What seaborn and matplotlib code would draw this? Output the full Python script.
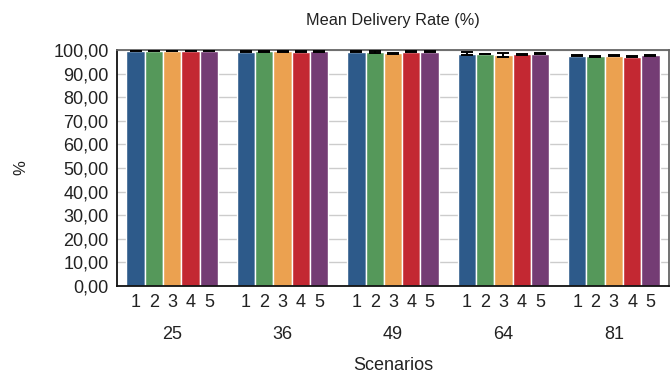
import matplotlib
matplotlib.use("Agg")
import matplotlib.pyplot as plt
import seaborn as sns
import pandas as pd
from matplotlib.ticker import FuncFormatter

# Mean delivery rate per scenario size and configuration
scenarios = ["25", "36", "49", "64", "81"]
configs = ["1", "2", "3", "4", "5"]
rate_25 = [99.7, 99.7, 99.7, 99.7, 99.7]
rate_36 = [99.3, 99.4, 99.4, 99.3, 99.4]
rate_49 = [99.3, 99.2, 98.6, 99.2, 99.3]
rate_64 = [98.5, 98.3, 97.9, 98.1, 98.5]
rate_81 = [97.6, 97.3, 97.6, 97.2, 97.7]
err_25 = [0.2, 0.2, 0.2, 0.2, 0.2]
err_36 = [0.2, 0.2, 0.2, 0.2, 0.2]
err_49 = [0.2, 0.3, 0.2, 0.2, 0.2]
err_64 = [0.7, 0.2, 1.0, 0.4, 0.3]
err_81 = [0.3, 0.3, 0.2, 0.3, 0.1]

rates = [rate_25, rate_36, rate_49, rate_64, rate_81]
errs = [err_25, err_36, err_49, err_64, err_81]

rows = []
for s, vals, es in zip(scenarios, rates, errs):
    for c, v, e in zip(configs, vals, es):
        rows.append({"scenario": s, "config": c, "rate": v, "err": e})
df = pd.DataFrame(rows)

palette = ["#2D5A8A", "#55985A", "#EBA150", "#C32832", "#743C74"]

sns.set_theme(style="white")
plt.rcParams["font.family"] = ["Liberation Sans", "DejaVu Sans"]

fig = plt.figure(figsize=(6.71, 3.76), dpi=100)
ax = fig.add_axes([117 / 671, 1 - 286 / 376, 552 / 671, 236 / 376])

sns.barplot(data=df, x="scenario", y="rate", hue="config", order=scenarios,
            hue_order=configs, palette=palette, width=0.83, errorbar=None,
            edgecolor="white", linewidth=1.0, saturation=1, ax=ax, zorder=2)

# Error bars placed on the drawn bars (patches are ordered by hue, then scenario)
bars = [p for p in ax.patches if p.get_height() > 0]
centers = []
for hi, c in enumerate(configs):
    for si, s in enumerate(scenarios):
        p = bars[hi * len(scenarios) + si]
        x = p.get_x() + p.get_width() / 2
        row = df[(df.scenario == s) & (df.config == c)].iloc[0]
        ax.errorbar(x, row.rate, yerr=row.err, color="black", capsize=4,
                    elinewidth=1.4, capthick=1.4, zorder=3)
        centers.append((x, c))

if ax.get_legend() is not None:
    ax.get_legend().remove()

ax.set_ylim(0, 100)
ax.set_xlim(-0.5, len(scenarios) - 0.5)
ax.set_yticks(range(0, 101, 10))
ax.yaxis.set_major_formatter(FuncFormatter(lambda v, _: f"{v:.2f}".replace(".", ",")))
ax.grid(axis="y", color="#CCCCCC", linewidth=1.0, zorder=0)
ax.set_axisbelow(True)

# Configuration numbers under each bar, scenario size underneath
centers.sort()
ax.xaxis.remove_overlapping_locs = False
ax.set_xticks([x for x, _ in centers], [c for _, c in centers], minor=True)
ax.set_xticks(range(len(scenarios)), scenarios)
ax.tick_params(axis="x", which="minor", length=0, pad=6, labelsize=13, colors="#222222")
ax.tick_params(axis="x", which="major", length=0, pad=29, labelsize=13, colors="#222222")
ax.tick_params(axis="y", length=0, pad=6, labelsize=13, colors="#222222")

for side in ["left", "bottom"]:
    ax.spines[side].set_color("#111111")
    ax.spines[side].set_linewidth(1.3)
for side in ["top", "right"]:
    ax.spines[side].set_color("#666666")
    ax.spines[side].set_linewidth(1.3)

ax.set_xlabel("Scenarios", fontsize=13, labelpad=10, color="#222222")
ax.set_ylabel("%", fontsize=12, labelpad=18, color="#222222")
ax.set_title("Mean Delivery Rate (%)", fontsize=11.7, pad=18, color="#222222")

fig.savefig("out.png", dpi=100)
